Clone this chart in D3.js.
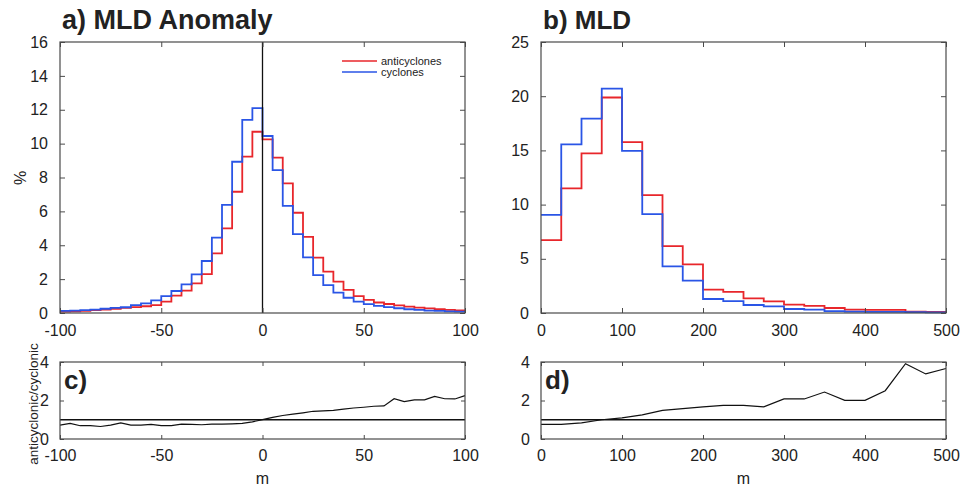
<!DOCTYPE html>
<html lang="en">
<head>
  <meta charset="UTF-8">
  <title>MLD anomaly histograms</title>
  <script src="https://cdn.jsdelivr.net/npm/d3@7"></script>
  <style>
    body { margin: 0; background: #fff; }
    svg text { font-family: "Liberation Sans", Arial, sans-serif; fill: #222; }
  </style>
</head>
<body>
<script>
  // a) MLD anomaly histograms, 5 m bins from -100 to 100 (%)
  const anomEdges = d3.range(-100, 101, 5);
  const anomAnti = [0.08, 0.1, 0.13, 0.17, 0.2, 0.25, 0.3, 0.35, 0.4, 0.47,
    0.67, 1.02, 1.32, 1.75, 2.3, 3.52, 5.0, 7.16, 9.23, 10.7,
    10.25, 9.17, 7.65, 5.92, 4.5, 3.27, 2.44, 1.85, 1.36, 1.0,
    0.77, 0.62, 0.53, 0.45, 0.38, 0.32, 0.27, 0.22, 0.18, 0.15];
  const anomCyc = [0.12, 0.14, 0.17, 0.2, 0.25, 0.3, 0.34, 0.46, 0.57, 0.75,
    1.0, 1.3, 1.69, 2.28, 3.07, 4.45, 6.38, 8.93, 11.4, 12.1,
    10.45, 8.44, 6.32, 4.66, 3.29, 2.24, 1.65, 1.2, 0.9, 0.67,
    0.52, 0.42, 0.35, 0.28, 0.22, 0.18, 0.14, 0.12, 0.1, 0.08];

  // b) MLD histograms, 25 m bins from 0 to 500 (%)
  const mldEdges = d3.range(0, 501, 25);
  const mldAnti = [6.73, 11.49, 14.72, 19.88, 15.76, 10.87, 6.17, 4.48, 2.15, 1.94,
    1.35, 1.08, 0.77, 0.65, 0.46, 0.31, 0.28, 0.28, 0.12, 0.1];
  const mldCyc = [9.06, 15.55, 17.94, 20.7, 14.96, 9.12, 4.3, 2.98, 1.29, 1.1,
    0.74, 0.62, 0.37, 0.31, 0.18, 0.12, 0.1, 0.1, 0.08, 0.05];

  // c) ratio anticyclonic/cyclonic vs MLD anomaly
  const ratioAnom = [0.72, 0.81, 0.69, 0.69, 0.65, 0.72, 0.84, 0.72, 0.72, 0.76,
    0.7, 0.7, 0.77, 0.76, 0.74, 0.77, 0.77, 0.79, 0.81, 0.89,
    1.01, 1.12, 1.22, 1.29, 1.36, 1.44, 1.46, 1.49, 1.55, 1.61,
    1.65, 1.7, 1.72, 2.09, 1.94, 2.03, 2.03, 2.21, 2.09, 2.08, 2.25];

  // d) ratio anticyclonic/cyclonic vs MLD
  const ratioMld = [0.76, 0.76, 0.84, 1.0, 1.1, 1.25, 1.49, 1.58, 1.67, 1.75,
    1.75, 1.67, 2.08, 2.08, 2.44, 2.01, 2.01, 2.51, 3.91, 3.38, 3.66];

  const anomTicks = [-100, -50, 0, 50, 100];
  const mldTicks = [0, 100, 200, 300, 400, 500];
  const pctTicksA = d3.range(0, 17, 2);
  const pctTicksB = d3.range(0, 26, 5);
  const ratioTicks = [0, 2, 4];

  const width = 971, height = 489;
  const red = '#e8262b', blue = '#2a55e6';
  const boxColor = '#4a4a4a';

  const svg = d3.select('body').append('svg')
    .attr('width', width).attr('height', height);

  const xA = d3.scaleLinear().domain([-100, 100]).range([60, 465]);
  const xB = d3.scaleLinear().domain([0, 500]).range([541, 946]);
  const yA = d3.scaleLinear().domain([0, 16]).range([313, 42]);
  const yB = d3.scaleLinear().domain([0, 25]).range([313, 42]);
  const yC = d3.scaleLinear().domain([0, 4]).range([439, 362]);

  const plain = d => String(d);   // matlab prints a hyphen, not a unicode minus

  // matlab style box: ticks pointing in on all four sides
  function box(x, y, xt, yt, tickLen) {
    const g = svg.append('g');
    const [x0, x1] = x.range(), [y0, y1] = y.range();
    g.append('g').attr('transform', `translate(0,${y0})`)
      .call(d3.axisBottom(x).tickValues(xt).tickSize(-tickLen).tickPadding(tickLen + 7).tickFormat(plain))
      .call(s => s.select('.domain').remove());
    g.append('g').attr('transform', `translate(0,${y1})`)
      .call(d3.axisTop(x).tickValues(xt).tickSize(-tickLen).tickFormat(''))
      .call(s => s.select('.domain').remove());
    g.append('g').attr('transform', `translate(${x0},0)`)
      .call(d3.axisLeft(y).tickValues(yt).tickSize(-tickLen).tickPadding(tickLen + 7).tickFormat(plain))
      .call(s => s.select('.domain').remove());
    g.append('g').attr('transform', `translate(${x1},0)`)
      .call(d3.axisRight(y).tickValues(yt).tickSize(-tickLen).tickFormat(''))
      .call(s => s.select('.domain').remove());
    g.selectAll('.tick line').attr('stroke', boxColor);
    g.selectAll('.tick text').style('font-size', '16px').attr('fill', '#222');
    g.append('rect').attr('x', x0).attr('y', y1)
      .attr('width', x1 - x0).attr('height', y0 - y1)
      .attr('fill', 'none').attr('stroke', boxColor).attr('stroke-width', 1.2);
    return g;
  }

  function stairs(x, y, edges, vals, color) {
    const pts = vals.map((v, i) => [edges[i], v]);
    pts.push([edges[edges.length - 1], vals[vals.length - 1]]);
    svg.append('path').datum(pts)
      .attr('fill', 'none').attr('stroke', color).attr('stroke-width', 1.8)
      .attr('d', d3.line().curve(d3.curveStepAfter).x(d => x(d[0])).y(d => y(d[1])));
  }

  function ratioLine(x, edges, vals) {
    svg.append('line')
      .attr('x1', x.range()[0]).attr('x2', x.range()[1])
      .attr('y1', yC(1)).attr('y2', yC(1))
      .attr('stroke', '#111').attr('stroke-width', 1.3);
    svg.append('path').datum(vals)
      .attr('fill', 'none').attr('stroke', '#111').attr('stroke-width', 1.2)
      .attr('d', d3.line().x((d, i) => x(edges[i])).y(d => yC(d)));
  }

  // panel a
  stairs(xA, yA, anomEdges, anomAnti, red);
  stairs(xA, yA, anomEdges, anomCyc, blue);
  svg.append('line').attr('x1', xA(0)).attr('x2', xA(0))
    .attr('y1', yA(0)).attr('y2', yA(16)).attr('stroke', '#111').attr('stroke-width', 1.3);
  box(xA, yA, anomTicks, pctTicksA, 5);

  // panel b
  stairs(xB, yB, mldEdges, mldAnti, red);
  stairs(xB, yB, mldEdges, mldCyc, blue);
  box(xB, yB, mldTicks, pctTicksB, 5);

  // panels c, d
  ratioLine(xA, anomEdges, ratioAnom);
  box(xA, yC, anomTicks, ratioTicks, 4);
  ratioLine(xB, mldEdges, ratioMld);
  box(xB, yC, mldTicks, ratioTicks, 4);

  // titles and labels
  svg.append('text').attr('x', 62).attr('y', 29)
    .style('font-size', '27px').style('font-weight', 'bold').text('a) MLD Anomaly');
  svg.append('text').attr('x', 543).attr('y', 29)
    .style('font-size', '26px').style('font-weight', 'bold').text('b) MLD');
  svg.append('text').attr('x', 64).attr('y', 389)
    .style('font-size', '26px').style('font-weight', 'bold').text('c)');
  svg.append('text').attr('x', 545).attr('y', 389)
    .style('font-size', '26px').style('font-weight', 'bold').text('d)');

  svg.append('text').attr('transform', 'translate(26,178) rotate(-90)')
    .attr('text-anchor', 'middle').style('font-size', '16px').text('%');
  svg.append('text').attr('transform', 'translate(38,404) rotate(-90)')
    .attr('text-anchor', 'middle').style('font-size', '13.5px').text('anticyclonic/cyclonic');
  svg.append('text').attr('x', xA(0)).attr('y', 484)
    .attr('text-anchor', 'middle').style('font-size', '16px').text('m');
  svg.append('text').attr('x', xB(250)).attr('y', 484)
    .attr('text-anchor', 'middle').style('font-size', '16px').text('m');

  // legend
  const legend = [['anticyclones', red], ['cyclones', blue]];
  legend.forEach(([name, color], i) => {
    const ly = 61 + i * 11;
    svg.append('line').attr('x1', 342).attr('x2', 377).attr('y1', ly).attr('y2', ly)
      .attr('stroke', color).attr('stroke-width', 1.5);
    svg.append('text').attr('x', 381).attr('y', ly + 3.5)
      .style('font-size', '11px').text(name);
  });
</script>
</body>
</html>
